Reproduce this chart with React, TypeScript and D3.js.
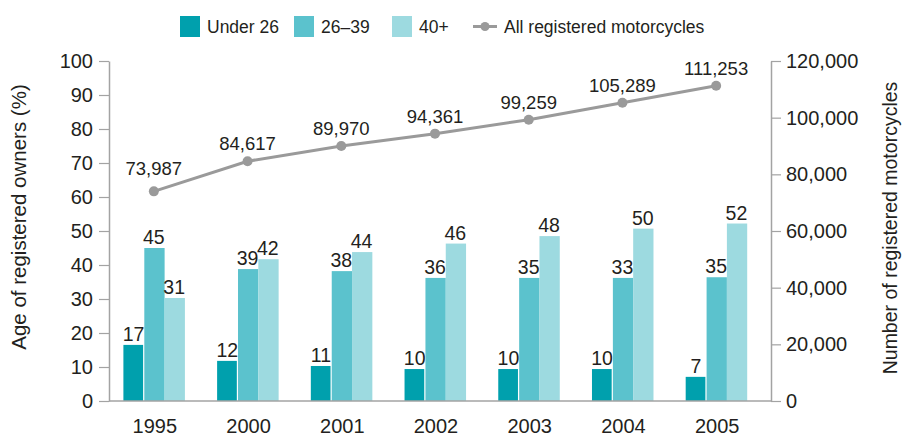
import { useEffect, useRef } from 'react';
import * as d3 from 'd3';

// chart data
const years = ['1995', '2000', '2001', '2002', '2003', '2004', '2005'];
const seriesNames = ['Under 26', '26–39', '40+'];
const seriesColors = ['#00a0ad', '#5bc2cd', '#9ddae0'];

// bar heights as drawn (percent)
const under26 = [16.5, 11.8, 10.3, 9.4, 9.4, 9.4, 7.1];
const age26to39 = [45, 38.8, 38.2, 36.2, 36.2, 36.2, 36.4];
const age40plus = [30.3, 41.7, 43.8, 46.3, 48.5, 50.7, 52.2];

// printed value labels
const under26Labels = ['17', '12', '11', '10', '10', '10', '7'];
const age26to39Labels = ['45', '39', '38', '36', '35', '33', '35'];
const age40plusLabels = ['31', '42', '44', '46', '48', '50', '52'];

const registered = [73987, 84617, 89970, 94361, 99259, 105289, 111253];

const leftTicks = [0, 10, 20, 30, 40, 50, 60, 70, 80, 90, 100];
const rightTicks = [0, 20000, 40000, 60000, 80000, 100000, 120000];

const FONT = '"Liberation Sans", Arial, sans-serif';
const TEXT = '#231f20';
const AXIS = '#a3a3a3';
const LINE = '#9a9a9a';

export default function App() {
  const svgRef = useRef<SVGSVGElement>(null);

  useEffect(() => {
    const W = 905, H = 436;
    const left = 109, right = 771, top = 61, bottom = 401;

    const svg = d3.select(svgRef.current);
    svg.selectAll('*').remove();
    svg.attr('width', W).attr('height', H).style('font-family', FONT);

    const x = d3.scaleBand().domain(years).range([107, 763]).paddingInner(0.35).paddingOuter(0.175);
    const sub = d3.scaleBand().domain(seriesNames).range([0, x.bandwidth()]);
    const yL = d3.scaleLinear().domain([0, 100]).range([bottom, top]);
    const yR = d3.scaleLinear().domain([0, 120000]).range([bottom, top]);

    const barSets = [under26, age26to39, age40plus];
    const labelSets = [under26Labels, age26to39Labels, age40plusLabels];

    // bars
    barSets.forEach((vals, si) => {
      const g = svg.append('g');
      g.selectAll('rect')
        .data(vals)
        .enter()
        .append('rect')
        .attr('x', (d, i) => x(years[i])! + sub(seriesNames[si])! + (si === 0 ? 0 : 0.6))
        .attr('y', d => yL(d))
        .attr('width', sub.bandwidth() - (si === 0 ? 0.6 : 0))
        .attr('height', d => yL(0) - yL(d))
        .attr('fill', seriesColors[si]);

      g.selectAll('text')
        .data(vals)
        .enter()
        .append('text')
        .attr('x', (d, i) => x(years[i])! + sub(seriesNames[si])! + sub.bandwidth() / 2)
        .attr('y', d => yL(d) - 4)
        .attr('text-anchor', 'middle')
        .style('font-size', '19.5px')
        .style('fill', TEXT)
        .text((d, i) => labelSets[si][i]);
    });

    // left axis
    const axL = svg.append('g').attr('transform', `translate(${left},0)`)
      .call(d3.axisLeft(yL).tickValues(leftTicks).tickSize(10).tickPadding(6).tickSizeOuter(0));
    axL.select('.domain').attr('stroke', AXIS).attr('stroke-width', 1.5);
    axL.selectAll('.tick line').attr('stroke', AXIS).attr('stroke-width', 1.2);
    axL.selectAll('.tick text').style('font-size', '20px').style('font-family', FONT).attr('fill', TEXT);

    // right axis
    const axR = svg.append('g').attr('transform', `translate(${right},0)`)
      .call(d3.axisRight(yR).tickValues(rightTicks).tickSize(10).tickPadding(5).tickSizeOuter(0)
        .tickFormat(d3.format(',')));
    axR.select('.domain').attr('stroke', AXIS).attr('stroke-width', 1.5);
    axR.selectAll('.tick line').attr('stroke', AXIS).attr('stroke-width', 1.2);
    axR.selectAll('.tick text').style('font-size', '20px').style('font-family', FONT).attr('fill', TEXT);

    // baseline + year labels
    svg.append('line')
      .attr('x1', left).attr('x2', right)
      .attr('y1', bottom).attr('y2', bottom)
      .attr('stroke', AXIS).attr('stroke-width', 1.5);

    svg.append('g').selectAll('text')
      .data(years)
      .enter()
      .append('text')
      .attr('x', d => x(d)! + x.bandwidth() / 2 + 1)
      .attr('y', bottom + 32)
      .attr('text-anchor', 'middle')
      .style('font-size', '20px')
      .style('fill', TEXT)
      .text(d => d);

    // line series
    const line = d3.line<number>()
      .x((d, i) => x(years[i])! + x.bandwidth() / 2)
      .y(d => yR(d));

    svg.append('path')
      .datum(registered)
      .attr('fill', 'none')
      .attr('stroke', LINE)
      .attr('stroke-width', 3)
      .attr('d', line);

    svg.append('g').selectAll('circle')
      .data(registered)
      .enter()
      .append('circle')
      .attr('cx', (d, i) => x(years[i])! + x.bandwidth() / 2)
      .attr('cy', d => yR(d))
      .attr('r', 5)
      .attr('fill', LINE);

    svg.append('g').selectAll('text')
      .data(registered)
      .enter()
      .append('text')
      .attr('x', (d, i) => x(years[i])! + x.bandwidth() / 2)
      .attr('y', (d, i) => yR(d) - (i === 0 ? 16 : 11))
      .attr('text-anchor', 'middle')
      .style('font-size', '18.5px')
      .style('fill', TEXT)
      .text(d => d3.format(',')(d));

    // axis titles
    svg.append('text')
      .attr('transform', `translate(26,217) rotate(-90)`)
      .attr('text-anchor', 'middle')
      .style('font-size', '20.5px')
      .style('fill', TEXT)
      .text('Age of registered owners (%)');

    svg.append('text')
      .attr('transform', `translate(897,228) rotate(-90)`)
      .attr('text-anchor', 'middle')
      .style('font-size', '19.5px')
      .style('fill', TEXT)
      .text('Number of registered motorcycles');

    // legend
    const legend = svg.append('g');
    const swatchX = [180, 294, 392];
    seriesNames.forEach((name, i) => {
      legend.append('rect')
        .attr('x', swatchX[i]).attr('y', 16)
        .attr('width', 20).attr('height', 21)
        .attr('fill', seriesColors[i]);
      legend.append('text')
        .attr('x', swatchX[i] + 27).attr('y', 33)
        .style('font-size', '17.5px')
        .style('fill', TEXT)
        .text(name);
    });
    legend.append('line')
      .attr('x1', 473).attr('x2', 497).attr('y1', 26.5).attr('y2', 26.5)
      .attr('stroke', LINE).attr('stroke-width', 3);
    legend.append('circle')
      .attr('cx', 485).attr('cy', 26.5).attr('r', 4.5).attr('fill', LINE);
    legend.append('text')
      .attr('x', 504).attr('y', 33)
      .style('font-size', '17.5px')
      .style('fill', TEXT)
      .text('All registered motorcycles');
  }, []);

  return (
    <div style={{ position: 'absolute', left: 0, top: 0 }}>
      <svg ref={svgRef}></svg>
    </div>
  );
}
